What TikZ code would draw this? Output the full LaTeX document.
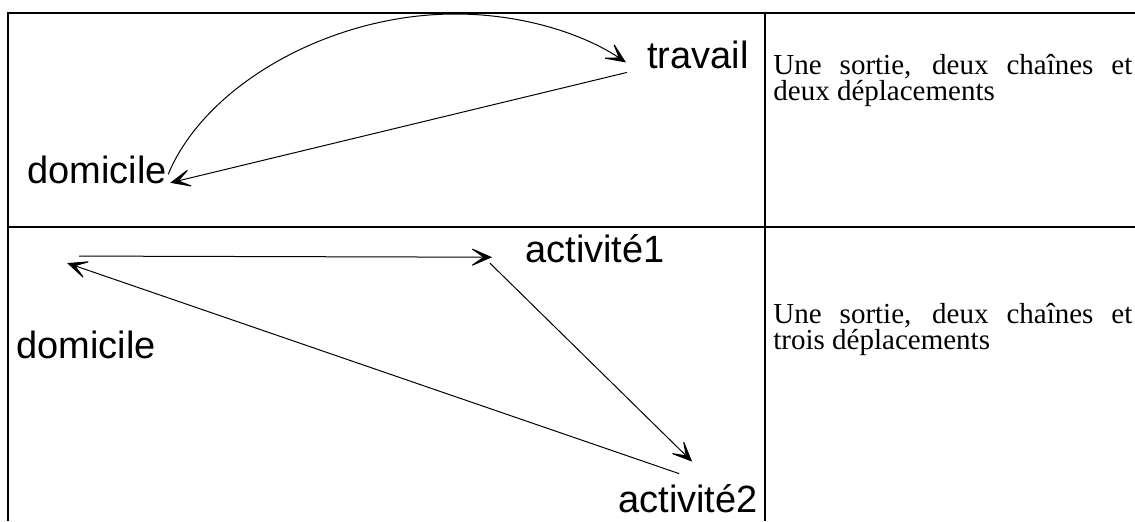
\documentclass[tikz,border=0pt]{standalone}
\usepackage{fontspec}
\setmainfont{Liberation Serif}
\newfontfamily\labelfont{Liberation Sans}
\newfontfamily\notefont{Liberation Serif}
\usetikzlibrary{arrows.meta}
\hbadness=10000

\tikzset{
  place/.style={font=\labelfont\fontsize{19}{22}\selectfont, inner sep=1pt, anchor=base west},
  trip/.style={-{Stealth[length=12pt,width=10.5pt,inset=7.5pt]}, line width=0.5pt},
  note/.style={inner sep=0pt, anchor=north west},
  gridline/.style={line width=1.2pt}
}
\newcommand{\celltext}[1]{\parbox[t]{179.5pt}{\notefont\fontsize{14.5}{13.2}\selectfont #1}}

\begin{document}
\begin{tikzpicture}[x=0.5pt,y=-0.5pt]
  \useasboundingbox (0,0) rectangle (1135,521);
  % table rules
  \draw[gridline] (8,521) -- (8,13) -- (1135,13);
  \draw[gridline] (8,227) -- (1135,227);
  \draw[gridline] (765,13) -- (765,521);

  % first row: domicile <-> travail
  \node[place] (dom1) at (25,183) {domicile};
  \node[place] (trav) at (645,68) {travail};
  \draw[trip] ([shift={(-1,5)}]dom1.east) .. controls (205,85) and (330,14) .. (455,14)
    .. controls (525,14) and (585,35) .. ([shift={(-19,8)}]trav.west);
  \draw[trip] ([shift={(-18,18)}]trav.west) -- ([shift={(1,-3)}]dom1.south east);
  \node[note] (txt1) at (773,54) {\celltext{Une sortie, deux chaînes et\linebreak deux déplacements}};

  % second row: domicile -> activite1 -> activite2 -> domicile
  \node[place] (dom2) at (14,358) {domicile};
  \node[place] (act1) at (523,262) {activité1};
  \node[place] (act2) at (616,512) {activité2};
  \draw[trip] ([shift={(-7,-72)}]dom2.north) -- ([shift={(-31,9)}]act1.west);
  \draw[trip] ([shift={(-33,15)}]act1.west) -- ([shift={(4,-20)}]act2.north);
  \draw[trip] ([shift={(-9,-8)}]act2.north) -- ([shift={(-19,-65)}]dom2.north);
  \node[note] (txt2) at (773,303) {\celltext{Une sortie, deux chaînes et\linebreak trois déplacements}};
\end{tikzpicture}
\end{document}
